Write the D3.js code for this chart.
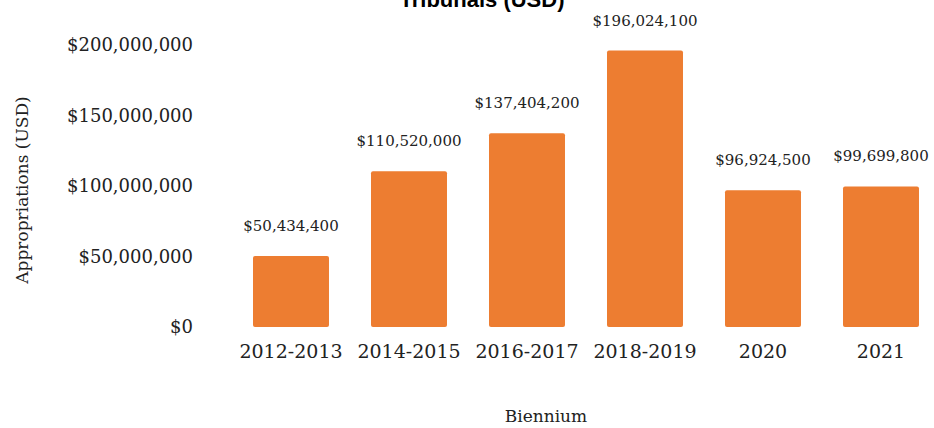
<!DOCTYPE html>
<html>
<head>
<meta charset="utf-8">
<script src="https://cdn.jsdelivr.net/npm/d3@7/dist/d3.min.js"></script>
<style>
  html, body { margin: 0; padding: 0; background: #fff; }
  svg { display: block; }
</style>
</head>
<body>
<svg id="chart" width="934" height="428"></svg>
<script>
// Biennium appropriations
const categories = ["2012-2013", "2014-2015", "2016-2017", "2018-2019", "2020", "2021"];
const values = [50434400, 110520000, 137404200, 196024100, 96924500, 99699800];
const yTicks = [0, 50000000, 100000000, 150000000, 200000000];

const svg = d3.select("#chart");
const serif = "'DejaVu Serif', serif";
const fmtLabel = d3.format("$,");

const x = d3.scaleBand()
  .domain(categories)
  .range([232, 940])
  .paddingInner(0.356)
  .paddingOuter(0.178);

const y = d3.scaleLinear()
  .domain([0, 200000000])
  .range([327, 45]);

// Title (second line only, first line falls above the frame)
svg.append("text")
  .attr("x", 482)
  .attr("y", 7)
  .attr("text-anchor", "middle")
  .attr("font-family", "'Liberation Sans', Arial, sans-serif")
  .attr("font-weight", "bold")
  .attr("font-size", 22)
  .attr("fill", "#000")
  .text("Tribunals (USD)");

// Y axis (labels only)
const yAxis = d3.axisLeft(y)
  .tickValues(yTicks)
  .tickSize(0)
  .tickPadding(0)
  .tickFormat(d3.format("$,"));
const gy = svg.append("g")
  .attr("transform", "translate(193,0)")
  .call(yAxis);
gy.select(".domain").remove();
gy.selectAll("text")
  .attr("font-family", serif)
  .attr("font-size", 18)
  .attr("fill", "#222");

// X axis (labels only)
const xAxis = d3.axisBottom(x).tickSize(0).tickPadding(0);
const gx = svg.append("g")
  .attr("transform", "translate(0,344)")
  .call(xAxis);
gx.select(".domain").remove();
gx.selectAll("text")
  .attr("font-family", serif)
  .attr("font-size", 19)
  .attr("fill", "#222");

// Bars
svg.append("g")
  .selectAll("rect")
  .data(values)
  .join("rect")
  .attr("x", (d, i) => x(categories[i]))
  .attr("y", d => y(d))
  .attr("width", x.bandwidth())
  .attr("height", d => y(0) - y(d))
  .attr("rx", 2)
  .attr("fill", "#ED7D31");

// Value labels
svg.append("g")
  .selectAll("text")
  .data(values)
  .join("text")
  .attr("x", (d, i) => x(categories[i]) + x.bandwidth() / 2)
  .attr("y", d => y(d) - 25)
  .attr("text-anchor", "middle")
  .attr("font-family", serif)
  .attr("font-size", 15)
  .attr("fill", "#222")
  .text(d => fmtLabel(d));

// Axis titles
svg.append("text")
  .attr("transform", "translate(28,190) rotate(-90)")
  .attr("text-anchor", "middle")
  .attr("font-family", serif)
  .attr("font-size", 17)
  .attr("fill", "#222")
  .text("Appropriations (USD)");

svg.append("text")
  .attr("x", 546)
  .attr("y", 422)
  .attr("text-anchor", "middle")
  .attr("font-family", serif)
  .attr("font-size", 17)
  .attr("fill", "#222")
  .text("Biennium");
</script>
</body>
</html>
